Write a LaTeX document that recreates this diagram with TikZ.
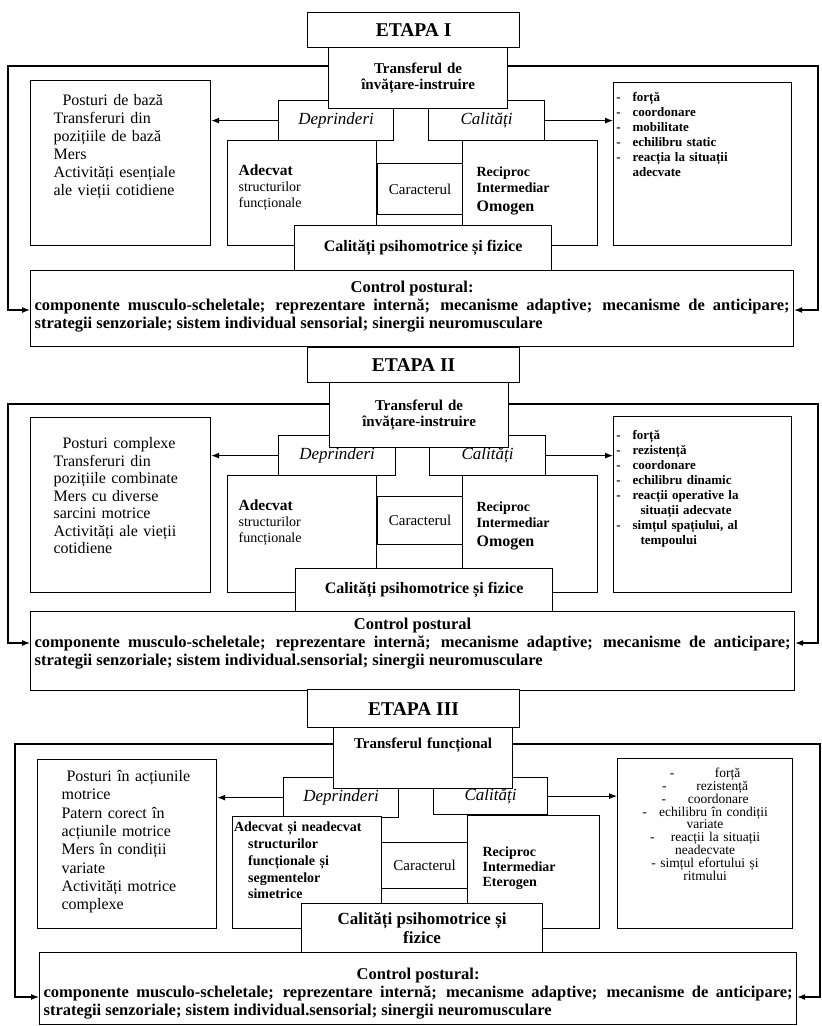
\documentclass[tikz,border=0pt]{standalone}
\usepackage{fontspec}
\setmainfont{Liberation Serif}
\usetikzlibrary{arrows.meta}
\newcommand\fsz[2]{\fontsize{#1}{#2}\selectfont}
\newcommand\itemtick{\leavevmode\llap{-\hskip12pt}}
\tikzset{
  >={Latex[length=8pt,width=6pt]},
  flow/.style={->,line width=1.1pt},
  frame/.style={draw,fill=white,line width=1.2pt,anchor=north west,inner sep=0pt},
  etapabox/.style={frame,minimum width=212pt,font=\fsz{19.5}{22}\bfseries},
  transbox/.style={frame,align=center,text width=179pt,font=\fsz{15}{15.5}\bfseries},
  skillbox/.style={frame,minimum height=40pt,font=\fsz{17}{19}\itshape},
  listbox/.style={frame,align=left,font=\fsz{16}{18}},
  qualbox/.style={frame,align=left,font=\fsz{13}{15}\bfseries},
  sidebox/.style={frame,align=left,font=\fsz{14}{16}},
  charbox/.style={frame,font=\fsz{15}{15}},
  psihbox/.style={frame,align=center,font=\fsz{16}{19}\bfseries},
  controlbox/.style={frame,align=justify,inner xsep=4pt,text height=11pt,font=\fsz{16.5}{18}\bfseries}
}
\begin{document}
\begin{tikzpicture}[x=1pt,y=-1pt]
  \path[use as bounding box,fill=white] (0,0) rectangle (822,1026);

  \node[listbox,inner xsep=23pt,inner ysep=14pt,text width=134pt,text height=11pt,text depth=126pt] (left1) at (30,80)
    {\hspace*{9pt}Posturi de bază\\Transferuri din\\pozițiile de bază\\Mers\\Activități esențiale\\ale vieții cotidiene};
  \node[qualbox,inner xsep=19pt,inner ysep=10pt,text width=140pt,text height=9pt,text depth=134pt] (right1) at (613,82)
    {\itemtick forță\\\itemtick coordonare\\\itemtick mobilitate\\\itemtick echilibru static\\\itemtick reacția la situații\\adecvate};
  \node[skillbox,minimum width=115pt] (dep1) at (278,100) {Deprinderi};
  \node[skillbox,minimum width=116pt] (cal1) at (428,100) {Calități};
  \node[transbox,minimum height=61pt] (tr1) at (328,47) {Transferul de\\învățare-instruire};
  \node[etapabox,minimum height=35pt] (et1) at (307,12) {ETAPA I};
  \node[sidebox,inner xsep=11pt,inner ysep=24pt,text width=127pt,text height=11pt,text depth=46pt] (ade1) at (227,140)
    {{\fsz{15.5}{16}\bfseries Adecvat}\\structurilor\\funcționale};
  \node[charbox,minimum width=85pt,minimum height=51pt] (car1) at (377,163) {Caracterul};
  \node[sidebox,font=\fsz{14}{16}\bfseries,inner xsep=14pt,inner ysep=26pt,text width=107pt,text height=10pt,text depth=43pt] (rec1) at (462,140)
    {Reciproc\\Intermediar\\[3pt]{\fsz{16}{16}Omogen}};
  \node[psihbox,minimum width=257pt,minimum height=45pt] (cps1) at (294,225) {Calități psihomotrice și fizice};
  \node[controlbox,inner ysep=11pt,text width=755pt,text depth=43pt] (ctl1) at (30,270)
    {{\centering Control postural:\par}componente musculo-scheletale; reprezentare internă; mecanisme adaptive; mecanisme de anticipare;\linebreak strategii senzoriale; sistem individual sensorial; sinergii neuromusculare};
  \coordinate (lp1) at (8,66);
  \coordinate (lq1) at (8,310);
  \coordinate (rp1) at (818,66);
  \coordinate (rq1) at (818,310);
  \draw[flow] (tr1.west |- lp1) -- (lp1) -- (lq1) -- (lq1 -| ctl1.west);
  \draw[flow] (tr1.east |- rp1) -- (rp1) -- (rq1) -- (rq1 -| ctl1.east);
  \draw[flow] (dep1.west) -- (dep1.west -| left1.east);
  \draw[flow] (cal1.east) -- (cal1.east -| right1.west);

  \node[listbox,font=\fsz{16}{17.5},inner xsep=23pt,inner ysep=20pt,text width=134pt,text height=11pt,text depth=124pt] (left2) at (30,417)
    {\hspace*{9pt}Posturi complexe\\Transferuri din\\pozițiile combinate\\Mers cu diverse\\sarcini motrice\\Activități ale vieții\\cotidiene};
  \node[qualbox,inner xsep=19pt,inner ysep=14pt,text width=140pt,text height=9pt,text depth=139pt] (right2) at (613,416)
    {\itemtick forță\\\itemtick rezistență\\\itemtick coordonare\\\itemtick echilibru dinamic\\\itemtick reacții operative la\\\hspace*{8pt}situații adecvate\\\itemtick simțul spațiului, al\\\hspace*{8pt}tempoului};
  \node[skillbox,minimum width=117pt] (dep2) at (278,435) {Deprinderi};
  \node[skillbox,minimum width=116pt] (cal2) at (429,435) {Calități};
  \node[transbox,minimum height=65pt] (tr2) at (329,382) {Transferul de\\învățare-instruire};
  \node[etapabox,minimum height=35pt] (et2) at (307,347) {ETAPA II};
  \node[sidebox,inner xsep=11pt,inner ysep=24pt,text width=127pt,text height=11pt,text depth=58pt] (ade2) at (227,475)
    {{\fsz{15.5}{16}\bfseries Adecvat}\\structurilor\\funcționale};
  \node[charbox,minimum width=85pt,minimum height=48pt] (car2) at (377,496) {Caracterul};
  \node[sidebox,font=\fsz{14}{16}\bfseries,inner xsep=14pt,inner ysep=26pt,text width=107pt,text height=10pt,text depth=55pt] (rec2) at (462,475)
    {Reciproc\\Intermediar\\[3pt]{\fsz{16}{16}Omogen}};
  \node[psihbox,minimum width=257pt,minimum height=43pt] (cps2) at (295,568) {Calități psihomotrice și fizice};
  \node[controlbox,inner ysep=7pt,text width=756pt,text depth=54pt] (ctl2) at (30,611)
    {{\centering Control postural\par}componente musculo-scheletale; reprezentare internă; mecanisme adaptive; mecanisme de anticipare;\linebreak strategii senzoriale; sistem individual.sensorial; sinergii neuromusculare};
  \coordinate (lp2) at (8,404);
  \coordinate (lq2) at (8,643);
  \coordinate (rp2) at (818,404);
  \coordinate (rq2) at (818,643);
  \draw[flow] (tr2.west |- lp2) -- (lp2) -- (lq2) -- (lq2 -| ctl2.west);
  \draw[flow] (tr2.east |- rp2) -- (rp2) -- (rq2) -- (rq2 -| ctl2.east);
  \draw[flow] (dep2.west) -- (dep2.west -| left2.east);
  \draw[flow] (cal2.east) -- (cal2.east -| right2.west);

  \node[listbox,font=\fsz{16}{18.3},inner xsep=24pt,inner ysep=11pt,text width=131pt,text height=11pt,text depth=136pt] (left3) at (37,759)
    {\hspace*{5pt}Posturi în acțiunile\\motrice\\Patern corect în\\acțiunile motrice\\Mers în condiții\\variate\\Activități motrice\\complexe};
  \node[qualbox,align=center,font=\fsz{13.5}{12.8},inner xsep=5pt,inner ysep=10pt,text width=165pt,text height=9pt,text depth=141pt] (right3) at (617,758)
    {\setlength\lineskiplimit{-6pt}-\hspace{3em}forță\\-\hspace{2.2em}rezistență\\-\hspace{1.6em}coordonare\\-\hspace{0.9em}echilibru în condiții\\variate\\-\hspace{1.2em}reacții la situații\\neadecvate\\- simțul efortului și\\ritmului};
  \node[skillbox,minimum width=115pt] (dep3) at (283,777) {Deprinderi};
  \node[skillbox,minimum width=114pt,minimum height=37pt] (cal3) at (433,777) {Calități};
  \node[transbox,inner ysep=11pt,text height=10pt,text depth=29pt] (tr3) at (333,727) {Transferul funcțional};
  \node[etapabox,minimum height=38pt] (et3) at (307,689) {ETAPA III};
  \node[sidebox,font=\fsz{14}{16.8}\bfseries,inner xsep=1.5pt,inner ysep=5pt,text width=146pt,text height=10pt,text depth=92pt] (ade3) at (232,816)
    {Adecvat și neadecvat\\\hspace*{14pt}structurilor\\\hspace*{14pt}funcționale și\\\hspace*{14pt}segmentelor\\\hspace*{14pt}simetrice};
  \node[charbox,minimum width=86pt,minimum height=46pt] (car3) at (381,842) {Caracterul};
  \node[sidebox,font=\fsz{14}{15}\bfseries,inner xsep=15pt,inner ysep=31pt,text width=102pt,text height=10pt,text depth=41pt] (rec3) at (467,815)
    {Reciproc\\Intermediar\\Eterogen};
  \node[psihbox,font=\fsz{17}{19}\bfseries,minimum width=241pt,minimum height=49pt] (cps3) at (301,903) {Calități psihomotrice și\\fizice};
  \node[controlbox,inner ysep=16pt,text width=749pt,text depth=29pt] (ctl3) at (39,952)
    {{\centering Control postural:\par}componente musculo-scheletale; reprezentare internă; mecanisme adaptive; mecanisme de anticipare;\linebreak strategii senzoriale; sistem individual.sensorial; sinergii neuromusculare};
  \coordinate (lp3) at (15,744);
  \coordinate (lq3) at (15,997);
  \coordinate (rp3) at (820,744);
  \coordinate (rq3) at (820,997);
  \draw[flow] (tr3.west |- lp3) -- (lp3) -- (lq3) -- (lq3 -| ctl3.west);
  \draw[flow] (tr3.east |- rp3) -- (rp3) -- (rq3) -- (rq3 -| ctl3.east);
  \draw[flow] (dep3.west) -- (dep3.west -| left3.east);
  \draw[flow] (cal3.east) -- (cal3.east -| right3.west);
\end{tikzpicture}
\end{document}
